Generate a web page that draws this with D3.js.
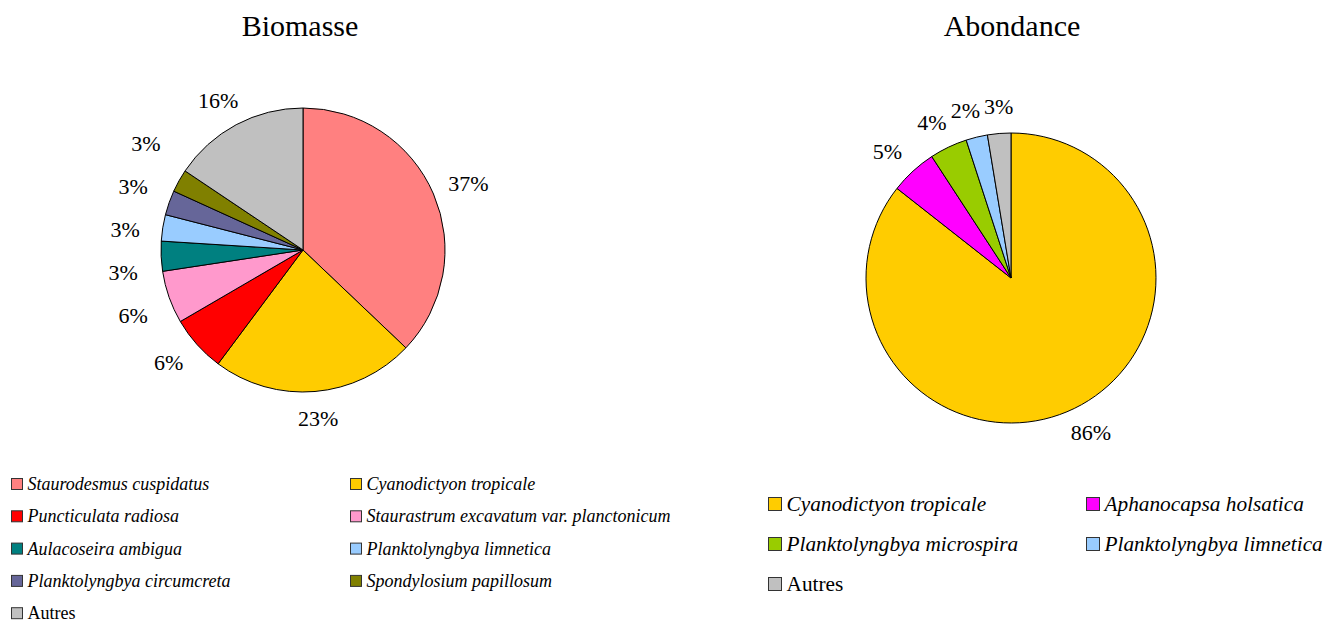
<!DOCTYPE html>
<html><head><meta charset="utf-8">
<script src="https://cdn.jsdelivr.net/npm/d3@7"></script>
<style>
html,body{margin:0;padding:0;background:#fff;}
svg{display:block;font-family:"Liberation Serif","Times New Roman",serif;}
</style></head>
<body><svg id="chart" width="1325" height="624"></svg>
<script>
// ---- data ----
const bioTitle = "Biomasse";
const bioSpecies = ["Staurodesmus cuspidatus","Cyanodictyon tropicale","Puncticulata radiosa","Staurastrum excavatum var. planctonicum","Aulacoseira ambigua","Planktolyngbya limnetica","Planktolyngbya circumcreta","Spondylosium papillosum","Autres"];
const bioValues = [37.1, 23.1, 6.4, 6.0, 3.4, 3.0, 2.8, 2.6, 15.6];
const bioColors = ["#FF8080","#FFCC00","#FF0000","#FF99CC","#008080","#99CCFF","#666699","#808000","#C0C0C0"];

const abTitle = "Abondance";
const abSpecies = ["Cyanodictyon tropicale","Aphanocapsa holsatica","Planktolyngbya microspira","Planktolyngbya limnetica","Autres"];
const abValues = [85.6, 5.2, 4.2, 2.4, 2.6];
const abColors = ["#FFCC00","#FF00FF","#99CC00","#99CCFF","#C0C0C0"];

const svg = d3.select("#chart");

function drawPie(cfg){
  const {title, names, values, colors, cx, cy, r, titleX, legend} = cfg;
  svg.append("text").attr("x", titleX).attr("y", 36).attr("text-anchor","middle")
    .attr("font-size", 30).attr("fill","#000").text(title);
  const total = d3.sum(values);
  const data = values.map((v,i)=>({name:names[i], value:v, color:colors[i]}));
  const pie = d3.pie().sort(null).value(d=>d.value);
  const arcs = pie(data);
  const arc = d3.arc().innerRadius(0).outerRadius(r);
  const g = svg.append("g").attr("transform", `translate(${cx},${cy})`);
  g.selectAll("path").data(arcs).join("path")
    .attr("d", arc).attr("fill", d=>d.data.color)
    .attr("stroke","#000").attr("stroke-width",1).attr("stroke-linejoin","round");

  // labels
  const fmt = v => Math.round(v/total*100) + "%";
  const labels = arcs.map(a=>{
    const m = (a.startAngle + a.endAngle)/2;
    return {text: fmt(a.data.value), x: Math.sin(m)*(r+38), y: -Math.cos(m)*(r+27)};
  });
  const tl = g.selectAll("text.lab").data(labels).join("text")
    .attr("class","lab").attr("font-size",22).attr("fill","#000")
    .attr("text-anchor","middle").attr("dominant-baseline","central")
    .text(d=>d.text);
  tl.each(function(d){ d.w = this.getComputedTextLength() + 4; d.h = 43; });
  // simple collision relaxation
  for(let it=0; it<300; it++){
    let moved = false;
    for(let i=0;i<labels.length;i++) for(let j=i+1;j<labels.length;j++){
      const a = labels[i], b = labels[j];
      const dx = b.x - a.x, dy = b.y - a.y;
      const ox = (a.w+b.w)/2 - Math.abs(dx), oy = (a.h+b.h)/2 - Math.abs(dy);
      if(ox>0 && oy>0){
        moved = true;
        if(oy < ox){ const s = (dy>=0?1:-1)*oy/2*0.5; a.y -= s; b.y += s; }
        else { const s = (dx>=0?1:-1)*ox/2*0.5; a.x -= s; b.x += s; }
      }
    }
    if(!moved) break;
  }
  tl.attr("x", d=>d.x).attr("y", d=>d.y);

  // legend
  const lg = svg.append("g");
  const items = lg.selectAll("g").data(data).join("g")
    .attr("transform",(d,i)=>`translate(${legend.x + (i%2)*legend.colW},${legend.y + Math.floor(i/2)*legend.rowH})`);
  items.append("rect").attr("x",0).attr("y",-legend.sq/2).attr("width",legend.sq).attr("height",legend.sq)
    .attr("fill",d=>d.color).attr("stroke","#333").attr("stroke-width",1);
  items.append("text").attr("x",legend.sq+5).attr("y",0).attr("dominant-baseline","central")
    .attr("font-size",legend.fs).attr("font-style",d=>d.name==="Autres"?"normal":"italic")
    .attr("fill","#000").text(d=>d.name);
}

drawPie({title:bioTitle, names:bioSpecies, values:bioValues, colors:bioColors,
  cx:303, cy:250, r:142, titleX:300,
  legend:{x:11.5, y:484, colW:339, rowH:32.3, sq:11, fs:18}});
drawPie({title:abTitle, names:abSpecies, values:abValues, colors:abColors,
  cx:1011, cy:278, r:145, titleX:1012,
  legend:{x:768.5, y:504, colW:318, rowH:40, sq:13, fs:21.3}});
</script></body></html>
